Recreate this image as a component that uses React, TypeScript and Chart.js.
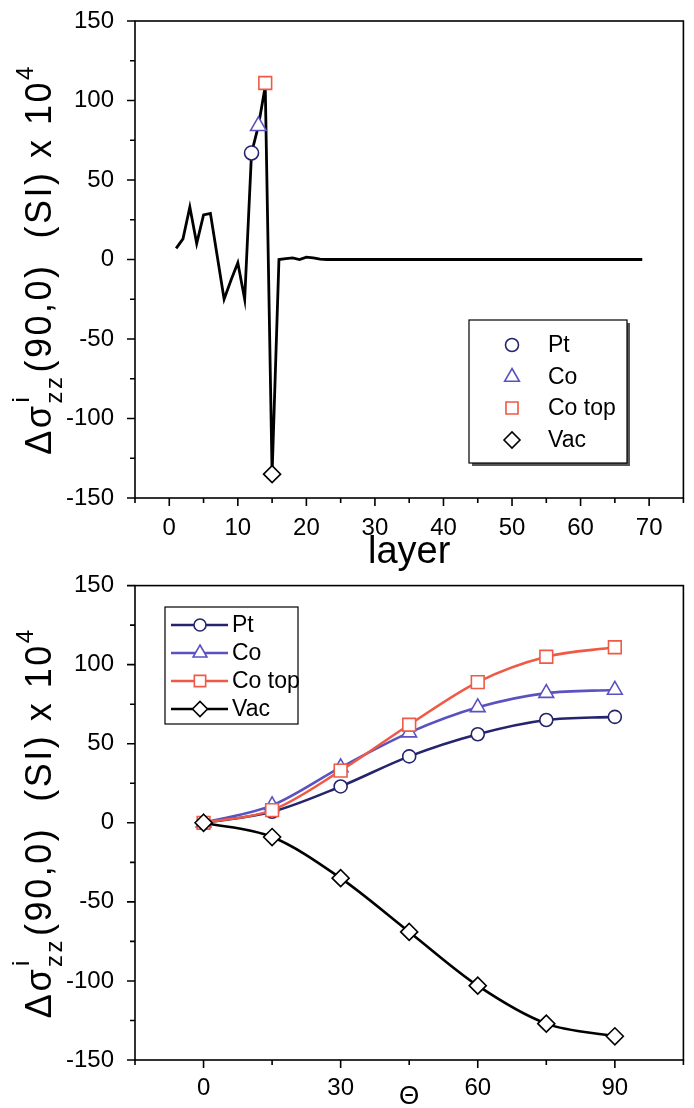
import React, { useEffect, useRef } from 'react';
import { Chart, registerables } from 'chart.js';

Chart.register(...registerables);

const FONT = '"Liberation Sans", Arial, Helvetica, sans-serif';

// ---------- Top panel: profile across layers ----------
const layerNumbers = [
  1, 2, 3, 4, 5, 6, 7, 8, 9, 10, 11, 12, 13, 14, 15, 16, 17, 18, 19, 20,
  21, 22, 23, 24, 25, 26, 27, 28, 29, 30, 31, 32, 33, 34, 35, 36, 37, 38, 39, 40,
  41, 42, 43, 44, 45, 46, 47, 48, 49, 50, 51, 52, 53, 54, 55, 56, 57, 58, 59, 60,
  61, 62, 63, 64, 65, 66, 67, 68, 69,
];
const layerProfile = [
  7, 13, 33, 10, 28, 29, 2, -25, -13, -2, -25, 67, 84, 109, -135, 0, 0.5, 1, 0, 1.5,
  1, 0.3, 0, 0, 0, 0, 0, 0, 0, 0, 0, 0, 0, 0, 0, 0, 0, 0, 0, 0,
  0, 0, 0, 0, 0, 0, 0, 0, 0, 0, 0, 0, 0, 0, 0, 0, 0, 0, 0, 0,
  0, 0, 0, 0, 0, 0, 0, 0, 0,
];
const topPtLayer = [12];
const topPtValue = [67];
const topCoLayer = [13];
const topCoValue = [84];
const topCoTopLayer = [14];
const topCoTopValue = [111];
const topVacLayer = [15];
const topVacValue = [-135];

const layerMajorTicks = [0, 10, 20, 30, 40, 50, 60, 70];
const layerMinorTicks = [-5, 5, 15, 25, 35, 45, 55, 65, 75];

// ---------- Bottom panel: angular dependence ----------
const thetaValues = [0, 15, 30, 45, 60, 75, 90];
const ptTheta = [0, 7, 23, 42, 56, 65, 67];
const coTheta = [0, 11, 35, 57, 73, 82, 84];
const coTopTheta = [0, 8, 33, 62, 89, 105, 111];
const vacTheta = [0, -9, -35, -69, -103, -127, -135];

const thetaMajorTicks = [0, 30, 60, 90];
const thetaMinorTicks = [-15, 15, 45, 75, 105];

const yMajorTicks = [-150, -100, -50, 0, 50, 100, 150];
const yMinorTicks = [-125, -75, -25, 25, 75, 125];

const seriesNames = ['Pt', 'Co', 'Co top', 'Vac'];

const PT = '#25256f';
const CO = '#5a52c0';
const COTOP = '#ee5a45';
const VAC = '#000000';

type Marker = 'circle' | 'triangle' | 'rect' | 'rectRot';

function drawMarker(ctx: CanvasRenderingContext2D, style: Marker, x: number, y: number, r: number, color: string) {
  ctx.save();
  ctx.beginPath();
  if (style === 'circle') {
    ctx.arc(x, y, r, 0, Math.PI * 2);
  } else if (style === 'triangle') {
    for (let i = 0; i < 3; i++) {
      const a = (i * 2 * Math.PI) / 3;
      const px = x + Math.sin(a) * r;
      const py = y - Math.cos(a) * r;
      if (i === 0) ctx.moveTo(px, py);
      else ctx.lineTo(px, py);
    }
    ctx.closePath();
  } else if (style === 'rect') {
    const s = Math.SQRT1_2 * r;
    ctx.rect(x - s, y - s, 2 * s, 2 * s);
  } else {
    ctx.moveTo(x - r, y);
    ctx.lineTo(x, y - r);
    ctx.lineTo(x + r, y);
    ctx.lineTo(x, y + r);
    ctx.closePath();
  }
  ctx.fillStyle = '#fff';
  ctx.fill();
  ctx.lineWidth = 1.6;
  ctx.strokeStyle = color;
  ctx.stroke();
  ctx.restore();
}

function drawYTitle(ctx: CanvasRenderingContext2D, cx: number, cy: number, size: number, spacing: number) {
  const main = `${size}px ${FONT}`;
  const small = `${Math.round(size * 0.66)}px ${FONT}`;
  ctx.save();
  (ctx as any).letterSpacing = `${spacing}px`;
  ctx.translate(cx, cy);
  ctx.rotate(-Math.PI / 2);
  ctx.fillStyle = '#000';
  ctx.textBaseline = 'alphabetic';
  ctx.textAlign = 'left';
  ctx.font = main;
  const w1 = ctx.measureText('\u0394\u03c3').width;
  const w3 = ctx.measureText('(90,0)  (SI) x 10').width;
  ctx.font = small;
  const wi = ctx.measureText('i').width;
  const wz = ctx.measureText('zz').width;
  const w4 = ctx.measureText('4').width;
  const stackW = Math.max(wi, wz) + 2;
  const total = w1 + stackW + w3 + w4;
  let x = -total / 2;
  const base = size * 0.36;
  ctx.font = main;
  ctx.fillText('\u0394\u03c3', x, base);
  x += w1;
  ctx.font = small;
  ctx.fillText('i', x + 1, base - size * 0.62);
  ctx.fillText('zz', x, base + size * 0.3);
  x += stackW;
  ctx.font = main;
  ctx.fillText('(90,0)  (SI) x 10', x, base);
  x += w3;
  ctx.font = small;
  ctx.fillText('4', x, base - size * 0.5);
  ctx.restore();
}

function frameAndTicks(chart: any, xMajor: number[], xMinor: number[]) {
  const { ctx, chartArea: a, scales } = chart;
  const xs = scales.x;
  const ys = scales.y;
  ctx.save();
  ctx.strokeStyle = '#000';
  ctx.lineWidth = 1.6;
  ctx.strokeRect(a.left, a.top, a.right - a.left, a.bottom - a.top);
  ctx.beginPath();
  xMajor.forEach((v) => {
    const p = xs.getPixelForValue(v);
    ctx.moveTo(p, a.bottom);
    ctx.lineTo(p, a.bottom + 8);
  });
  xMinor.forEach((v) => {
    const p = xs.getPixelForValue(v);
    ctx.moveTo(p, a.bottom);
    ctx.lineTo(p, a.bottom + 5);
  });
  yMajorTicks.forEach((v) => {
    const p = ys.getPixelForValue(v);
    ctx.moveTo(a.left, p);
    ctx.lineTo(a.left - 8, p);
  });
  yMinorTicks.forEach((v) => {
    const p = ys.getPixelForValue(v);
    ctx.moveTo(a.left, p);
    ctx.lineTo(a.left - 5, p);
  });
  ctx.stroke();
  ctx.restore();
}

const markerStyles: Marker[] = ['circle', 'triangle', 'rect', 'rectRot'];
const markerColors = [PT, CO, COTOP, VAC];
const markerRadii = [7, 9, 9, 8.5];

const TICK_SIZE = 24;

function yAxis(padding: number) {
  return {
    type: 'linear' as const,
    position: 'left' as const,
    min: -150,
    max: 150,
    grid: { display: false },
    border: { display: false },
    afterBuildTicks: (s: any) => {
      s.ticks = yMajorTicks.map((v) => ({ value: v }));
    },
    afterFit: (s: any) => {
      s.width = 135;
      s.paddingTop = 0;
      s.paddingBottom = 0;
    },
    ticks: {
      padding,
      color: '#000',
      font: { family: FONT, size: TICK_SIZE },
      callback: (v: any) => String(v),
    },
  };
}

function xAxis(min: number, max: number, major: number[], height: number, padding: number) {
  return {
    type: 'linear' as const,
    min,
    max,
    grid: { display: false },
    border: { display: false },
    afterBuildTicks: (s: any) => {
      s.ticks = major.map((v) => ({ value: v }));
    },
    afterFit: (s: any) => {
      s.height = height;
      s.paddingLeft = 0;
      s.paddingRight = 0;
    },
    ticks: {
      padding,
      maxRotation: 0,
      autoSkip: false,
      color: '#000',
      font: { family: FONT, size: TICK_SIZE },
      callback: (v: any) => String(v),
    },
  };
}

export default function App() {
  const topRef = useRef<HTMLCanvasElement | null>(null);
  const botRef = useRef<HTMLCanvasElement | null>(null);

  useEffect(() => {
    const topCanvas = topRef.current;
    const botCanvas = botRef.current;
    if (!topCanvas || !botCanvas) return;

    const topMarkerData = [
      { xs: topPtLayer, ys: topPtValue },
      { xs: topCoLayer, ys: topCoValue },
      { xs: topCoTopLayer, ys: topCoTopValue },
      { xs: topVacLayer, ys: topVacValue },
    ];

    const topChart = new Chart(topCanvas, {
      type: 'scatter',
      data: {
        datasets: [
          ...topMarkerData.map((d, i) => ({
            label: seriesNames[i],
            data: d.xs.map((x, k) => ({ x, y: d.ys[k] })),
            showLine: false,
            pointStyle: markerStyles[i],
            pointRadius: markerRadii[i],
            pointBorderWidth: 1.6,
            pointBorderColor: markerColors[i],
            pointBackgroundColor: '#fff',
            order: 0,
          })),
          {
            label: 'profile',
            data: layerNumbers.map((x, k) => ({ x, y: layerProfile[k] })),
            showLine: true,
            borderColor: '#000',
            borderWidth: 2.8,
            pointRadius: 0,
            tension: 0,
            order: 1,
          },
        ],
      },
      options: {
        animation: false,
        responsive: false,
        maintainAspectRatio: false,
        layout: { padding: { top: 21, right: 1, left: 0, bottom: 0 } },
        plugins: { legend: { display: false }, tooltip: { enabled: false } },
        scales: {
          x: xAxis(-5, 75, layerMajorTicks, 77, 8),
          y: yAxis(13),
        },
      },
      plugins: [
        {
          id: 'decorTop',
          afterDraw(chart: any) {
            frameAndTicks(chart, layerMajorTicks, layerMinorTicks);
            const ctx = chart.ctx as CanvasRenderingContext2D;
            const a = chart.chartArea;
            drawYTitle(ctx, 38, (a.top + a.bottom) / 2, 36, 2.5);
            ctx.save();
            ctx.fillStyle = '#000';
            ctx.font = `38px ${FONT}`;
            ctx.textAlign = 'center';
            ctx.textBaseline = 'alphabetic';
            ctx.fillText('layer', (a.left + a.right) / 2, 563);
            // legend box with shadow
            const bx = 469, by = 320, bw = 158, bh = 143;
            ctx.fillStyle = '#555';
            ctx.fillRect(bx + 3, by + 3, bw, bh);
            ctx.fillStyle = '#fff';
            ctx.fillRect(bx, by, bw, bh);
            ctx.strokeStyle = '#000';
            ctx.lineWidth = 1.2;
            ctx.strokeRect(bx, by, bw, bh);
            const rows = [345, 377, 408, 440];
            ctx.font = `23px ${FONT}`;
            ctx.textAlign = 'left';
            ctx.textBaseline = 'middle';
            seriesNames.forEach((name, i) => {
              drawMarker(ctx, markerStyles[i], 512, rows[i], i === 0 ? 6.5 : i === 3 ? 8 : 8.5, markerColors[i]);
              ctx.fillStyle = '#000';
              ctx.fillText(name, 548, rows[i] + 1);
            });
            ctx.restore();
          },
        },
      ],
    });

    const botSeries = [ptTheta, coTheta, coTopTheta, vacTheta];
    const botOrder = [3, 2, 1, 0];
    const botRadii = [6.5, 8.5, 9, 8.5];

    const botChart = new Chart(botCanvas, {
      type: 'line',
      data: {
        datasets: botSeries.map((vals, i) => ({
          label: seriesNames[i],
          data: thetaValues.map((x, k) => ({ x, y: vals[k] })),
          borderColor: markerColors[i],
          borderWidth: 2.6,
          cubicInterpolationMode: 'monotone' as const,
          pointStyle: markerStyles[i],
          pointRadius: botRadii[i],
          pointBorderWidth: 1.6,
          pointBorderColor: markerColors[i],
          pointBackgroundColor: '#fff',
          order: botOrder[i],
        })),
      },
      options: {
        animation: false,
        responsive: false,
        maintainAspectRatio: false,
        layout: { padding: { top: 10, right: 1, left: 0, bottom: 0 } },
        plugins: { legend: { display: false }, tooltip: { enabled: false } },
        scales: {
          x: xAxis(-15, 105, thetaMajorTicks, 48, 6),
          y: yAxis(13),
        },
      },
      plugins: [
        {
          id: 'decorBottom',
          afterDraw(chart: any) {
            frameAndTicks(chart, thetaMajorTicks, thetaMinorTicks);
            const ctx = chart.ctx as CanvasRenderingContext2D;
            const a = chart.chartArea;
            drawYTitle(ctx, 38, (a.top + a.bottom) / 2, 36, 2.5);
            ctx.save();
            ctx.fillStyle = '#000';
            ctx.font = `26px ${FONT}`;
            ctx.textAlign = 'center';
            ctx.textBaseline = 'alphabetic';
            ctx.fillText('\u0398', (a.left + a.right) / 2, 529);
            // legend
            const bx = 165, by = 32, bw = 133, bh = 117;
            ctx.fillStyle = '#fff';
            ctx.fillRect(bx, by, bw, bh);
            ctx.strokeStyle = '#000';
            ctx.lineWidth = 1.2;
            ctx.strokeRect(bx, by, bw, bh);
            const rows = [50, 78, 106, 134];
            ctx.font = `23px ${FONT}`;
            ctx.textAlign = 'left';
            ctx.textBaseline = 'middle';
            seriesNames.forEach((name, i) => {
              ctx.strokeStyle = markerColors[i];
              ctx.lineWidth = 2.6;
              ctx.beginPath();
              ctx.moveTo(171, rows[i]);
              ctx.lineTo(228, rows[i]);
              ctx.stroke();
              drawMarker(ctx, markerStyles[i], 200, rows[i], i === 0 ? 6 : i === 3 ? 7.5 : 8, markerColors[i]);
              ctx.fillStyle = '#000';
              ctx.fillText(name, 232, rows[i] + 1);
            });
            ctx.restore();
          },
        },
      ],
    });

    return () => {
      topChart.destroy();
      botChart.destroy();
    };
  }, []);

  return (
    <div style={{ position: 'absolute', left: 0, top: 0, width: 694, height: 1108, background: '#fff' }}>
      <canvas
        ref={topRef}
        width={694}
        height={575}
        style={{ position: 'absolute', left: 0, top: 0, width: 694, height: 575 }}
      />
      <canvas
        ref={botRef}
        width={694}
        height={533}
        style={{ position: 'absolute', left: 0, top: 575, width: 694, height: 533 }}
      />
    </div>
  );
}
